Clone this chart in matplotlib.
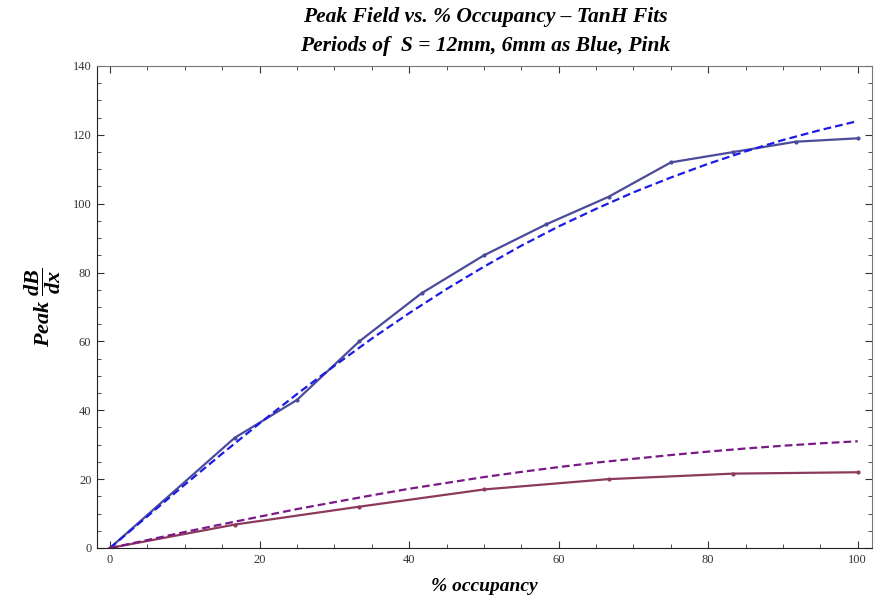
import matplotlib.pyplot as plt
from matplotlib.ticker import MultipleLocator

# Measured peak field, period S = 12 mm (blue) and S = 6 mm (pink)
occ_12 = [0, 16.67, 25, 33.33, 41.67, 50, 58.33, 66.67, 75, 83.33, 91.67, 100]
peak_12 = [0, 32, 43, 60, 74, 85, 94, 102, 112, 115, 118, 119]

occ_6 = [0, 16.67, 33.33, 50, 66.67, 83.33, 100]
peak_6 = [0, 6.8, 12, 17, 20, 21.6, 22]

# TanH fit curves, sampled along % occupancy
occ_fit = [0, 5, 10, 15, 20, 25, 30, 35, 40, 45, 50, 55, 60, 65, 70, 75, 80, 85, 90, 95, 100]
fit_12 = [0, 9.2, 18.4, 27.4, 36.2, 44.7, 52.9, 60.8, 68.2, 75.2, 81.7,
          87.8, 93.4, 98.5, 103.3, 107.6, 111.6, 115.2, 118.5, 121.4, 124]
fit_6 = [0, 2.3, 4.65, 6.9, 9.1, 11.3, 13.3, 15.3, 17.2, 18.9, 20.6,
         22.1, 23.5, 24.8, 25.9, 27.0, 28.0, 28.9, 29.7, 30.4, 31]

plt.rcParams['mathtext.fontset'] = 'custom'
plt.rcParams['mathtext.it'] = 'Liberation Serif:italic:bold'
plt.rcParams['mathtext.rm'] = 'Liberation Serif:bold'

fig = plt.figure(figsize=(8.77, 5.95), dpi=100)
ax = fig.add_axes([0.1106, 0.079, 0.8837, 0.8101])

ax.plot(occ_12, peak_12, color="#4b4b9c", lw=1.6, marker="o", ms=2.0)
ax.plot(occ_fit, fit_12, color="#1c1ce6", lw=1.6, ls=(0, (3.5, 1.8)))
ax.plot(occ_6, peak_6, color="#8c3a5c", lw=1.6, marker="o", ms=2.0)
ax.plot(occ_fit, fit_6, color="#7a1a86", lw=1.6, ls=(0, (3.5, 1.8)))

ax.set_xlim(-1.74, 101.9)
ax.set_ylim(0, 140)
ax.xaxis.set_major_locator(MultipleLocator(20))
ax.xaxis.set_minor_locator(MultipleLocator(5))
ax.yaxis.set_major_locator(MultipleLocator(20))
ax.yaxis.set_minor_locator(MultipleLocator(5))
ax.tick_params(which="both", direction="in", top=True, right=True,
               labelsize=9, colors="#333333", pad=4)
ax.tick_params(which="major", length=5, width=0.8)
ax.tick_params(which="minor", length=3, width=0.6)
for lbl in ax.get_xticklabels() + ax.get_yticklabels():
    lbl.set_family("Liberation Serif")
for side in ["left", "bottom"]:
    ax.spines[side].set_color("#222222")
for side in ["top", "right"]:
    ax.spines[side].set_color("#777777")

ax.set_xlabel("% occupancy", family="Liberation Serif", style="italic",
              weight="bold", fontsize=14, labelpad=9)
ax.set_ylabel(r"$Peak\ \dfrac{dB}{dx}$", fontsize=16, labelpad=7)

fig.text(0.553, 0.988, "Peak Field vs. % Occupancy \u2013 TanH Fits",
         ha="center", va="top", family="Liberation Serif", style="italic",
         weight="bold", fontsize=15.5)
fig.text(0.553, 0.94, "Periods of  S = 12mm, 6mm as Blue, Pink",
         ha="center", va="top", family="Liberation Serif", style="italic",
         weight="bold", fontsize=15.5)

fig.savefig("out.png", dpi=100)
